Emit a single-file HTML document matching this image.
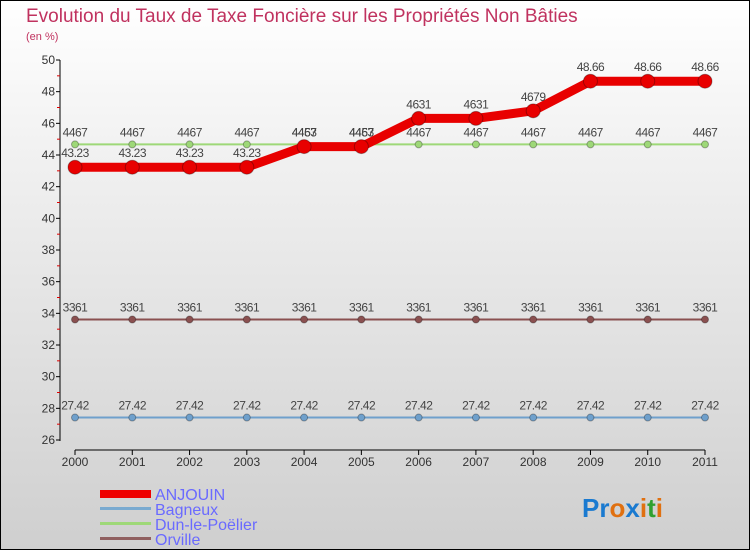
<!DOCTYPE html>
<html><head><meta charset="utf-8"><style>
body{margin:0}
#c{width:750px;height:550px;position:relative;overflow:hidden;box-sizing:border-box;border:1px solid #000;background:linear-gradient(#ffffff,#f0f0f0 30%,#cfcfcf);font-family:"Liberation Sans",sans-serif}
</style></head><body>
<div id="c">
<svg width="750" height="550" style="position:absolute;left:-1px;top:-1px" id="s">
<text x="26" y="22" font-size="19" fill="#c0325f">Evolution du Taux de Taxe Foncière sur les Propriétés Non Bâties</text>
<text x="26" y="40" font-size="11" fill="#c0325f">(en %)</text>
<line x1="60" y1="60" x2="60" y2="441" stroke="#000"/>
<line x1="75" y1="450" x2="705" y2="450" stroke="#000"/>
<g id="g"></g>
<text x="155" y="500" font-size="16" fill="#6a6aff">ANJOUIN</text>
<text x="155" y="515" font-size="16" fill="#6a6aff">Bagneux</text>
<text x="155" y="530" font-size="16" fill="#6a6aff">Dun-le-Poëlier</text>
<text x="155" y="545" font-size="16" fill="#6a6aff">Orville</text>
<rect x="100" y="490" width="51" height="8" fill="#e00"/>
<rect x="100" y="507" width="51" height="3" fill="#7aaad0"/>
<rect x="100" y="522" width="51" height="3" fill="#9ed878"/>
<rect x="100" y="537" width="51" height="3" fill="#906060"/>
<text x="582" y="517" font-size="26" font-weight="bold"><tspan fill="#1a7ad0">Pr</tspan><tspan fill="#e07010">o</tspan><tspan fill="#1a7ad0">x</tspan><tspan fill="#e07010">i</tspan><tspan fill="#30a030">t</tspan><tspan fill="#e07010">i</tspan></text>
</svg>
</div>
<script>
const years=[2000,2001,2002,2003,2004,2005,2006,2007,2008,2009,2010,2011];
const anjouin=[43.23,43.23,43.23,43.23,44.53,44.53,46.31,46.31,46.79,48.66,48.66,48.66];
const bagneux=[27.42,27.42,27.42,27.42,27.42,27.42,27.42,27.42,27.42,27.42,27.42,27.42];
const dun=[44.67,44.67,44.67,44.67,44.67,44.67,44.67,44.67,44.67,44.67,44.67,44.67];
const orville=[33.61,33.61,33.61,33.61,33.61,33.61,33.61,33.61,33.61,33.61,33.61,33.61];
const yTicks=[26,28,30,32,34,36,38,40,42,44,46,48,50];
const NS="http://www.w3.org/2000/svg";
const g=document.getElementById('g');
const X=i=>75+i*(630/(years.length-1));
const Y=v=>60+(50-v)*(380/24);
function mk(t,a){const e=document.createElementNS(NS,t);for(const k in a)e.setAttribute(k,a[k]);g.appendChild(e);return e;}
yTicks.forEach(v=>{
 const t=mk('line',{x1:56,x2:60,y1:Y(v),y2:Y(v),stroke:'#000'});
 
 
 const l=mk('text',{x:55,y:Y(v)+4,'font-size':12,'text-anchor':'end',fill:'#333'});l.textContent=v;
 
 
 if(v<50){const m=mk('line',{x1:57,x2:60,y1:Y(v+1),y2:Y(v+1),stroke:'#d00'});
 
 }
});
years.forEach((y,i)=>{
 const t=mk('line',{x1:X(i),x2:X(i),y1:450,y2:455,stroke:'#000'});
 
 
 const l=mk('text',{x:X(i),y:466,'font-size':12,'text-anchor':'middle',fill:'#333'});l.textContent=y;
 
 
});
function series(vals,color,w,r,name,fmt,labelAbove){
 const pts=vals.map((v,i)=>X(i)+','+Y(v)).join(' ');
 const p=mk('polyline',{points:pts,fill:'none',stroke:color,'stroke-width':w,'stroke-linejoin':'round'});
 
 
 vals.forEach((v,i)=>{
  const c=mk('circle',{cx:X(i),cy:Y(v),r:r,fill:color,stroke:'rgba(0,0,0,0.3)'});
  
  
  const l=mk('text',{x:X(i),y:Y(v)+(labelAbove?-8:-10),'font-size':12,'text-anchor':'middle',fill:'#444','letter-spacing':'-0.5'});
  l.textContent=fmt(v);
  
  
 });
}
const f1=v=>v.toFixed(2).replace('.','');
const f2=v=>v.toFixed(2);
series(bagneux,'#6fa0cc',2,3.5,'bagneux',f2,true);
series(orville,'#8a5050',2,3.5,'orville',f1,true);
series(dun,'#9ed878',2,3.5,'dun',f1,true);
series(anjouin,'#e80000',9,7,'anjouin',v=>(v>=44.5&&v<44.6)?f1(v):(v<44?f2(v):(v>=48?f2(v):f1(v))),false);
</script>
</body></html>
